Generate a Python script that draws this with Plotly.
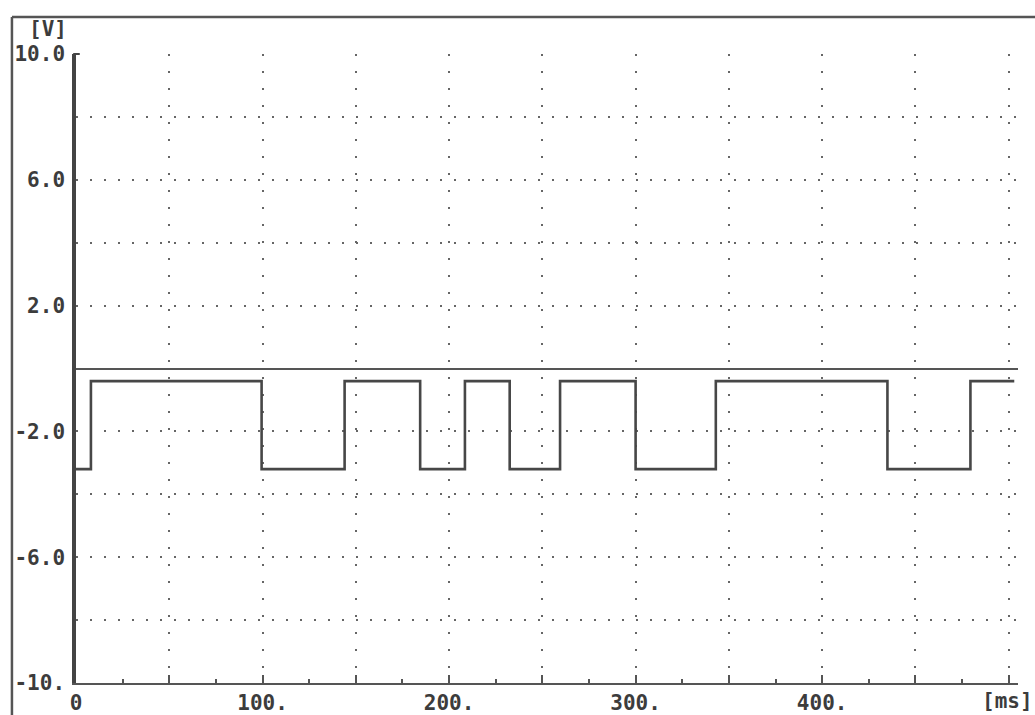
import plotly.graph_objects as go

# Square-wave capture: switching instants (ms) and the voltage held after each one
t_ms = [0, 8, 99.5, 144, 184.5, 208.5, 232.5, 259.5, 300, 343, 435, 479.5, 503]
volts = [-3.2, -0.4, -3.2, -0.4, -3.2, -0.4, -3.2, -0.4, -3.2, -0.4, -3.2, -0.4, -0.4]

# Axis ticks and labels
x_ticks = [0, 50, 100, 150, 200, 250, 300, 350, 400, 450, 500]
x_labels = ["0", "", "100.", "", "200.", "", "300.", "", "400.", "", ""]
y_ticks = [10, 8, 6, 4, 2, 0, -2, -4, -6, -8, -10]
y_labels = ["10.0", "", "6.0", "", "2.0", "", "-2.0", "", "-6.0", "", "-10."]

INK = "#3c3c3c"
FONT = "DejaVu Sans Mono"

fig = go.Figure()
fig.add_trace(go.Scatter(
    x=t_ms, y=volts, mode="lines", line_shape="hv",
    line=dict(color="#474747", width=2.6), hoverinfo="skip", showlegend=False,
))

fig.update_layout(
    width=1035, height=715,
    margin=dict(l=76, r=17, t=54, b=32),
    paper_bgcolor="white", plot_bgcolor="white",
    font=dict(family=FONT, color=INK, size=20),
    xaxis=dict(
        range=[0, 505], tickmode="array", tickvals=x_ticks, ticktext=x_labels,
        ticks="inside", ticklen=8, tickwidth=2, tickcolor="#555",
        minor=dict(dtick=25, ticks="inside", ticklen=4, tickwidth=2, tickcolor="#555", showgrid=False),
        showgrid=True, gridcolor="#666", gridwidth=1.6, griddash="2px,15px",
        showline=True, linecolor="#555", linewidth=2,
        zeroline=False, tickfont=dict(family=FONT, size=21, color=INK, weight="bold"),
        ticklabelstandoff=0, automargin=False, fixedrange=True,
    ),
    yaxis=dict(
        range=[-10, 10], tickmode="array", tickvals=y_ticks, ticktext=y_labels,
        ticks="", showgrid=True, gridcolor="#666", gridwidth=1.6, griddash="2px,12px",
        showline=True, linecolor="#444", linewidth=3.5,
        zeroline=True, zerolinecolor="#555", zerolinewidth=2.2,
        tickfont=dict(family=FONT, size=21, color=INK, weight="bold"),
        ticklabelstandoff=3, automargin=False, fixedrange=True,
    ),
    shapes=[
        # outer frame: top and left edges
        dict(type="line", xref="paper", yref="paper", x0=-0.068, x1=1.02, y0=1.059, y1=1.059,
             line=dict(color="#555", width=2.5)),
        dict(type="line", xref="paper", yref="paper", x0=-0.068, x1=-0.068, y0=1.059, y1=-0.1,
             line=dict(color="#555", width=2.5)),
        # small serif at the top of the voltage axis
        dict(type="line", xref="paper", yref="paper", x0=-0.003, x1=0.004, y0=1.0, y1=1.0,
             line=dict(color="#444", width=2)),
    ],
    annotations=[
        dict(text="[V]", xref="paper", yref="paper", x=-0.052, y=1.039, xanchor="left", yanchor="middle",
             showarrow=False, font=dict(family=FONT, size=21, color=INK, weight="bold")),
        dict(text="[ms]", xref="paper", yref="paper", x=1.018, y=-0.006, xanchor="right", yanchor="top",
             showarrow=False, font=dict(family=FONT, size=21, color=INK, weight="bold")),
    ],
)

fig.write_html("out.html")
